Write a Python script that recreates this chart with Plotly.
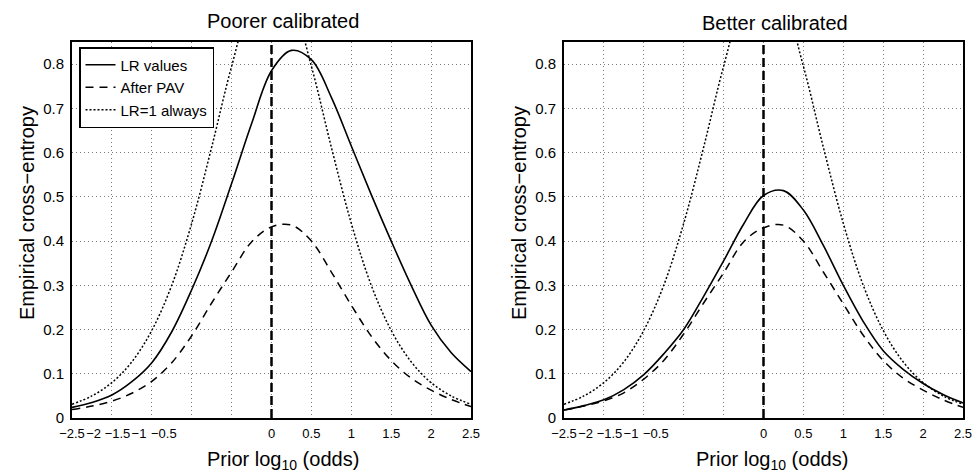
import plotly.graph_objects as go

# ---------------- data ----------------
prior_log_odds = [-2.5, -2.25, -2.0, -1.75, -1.5, -1.25, -1.0, -0.75, -0.5, -0.25,
                  0.0, 0.25, 0.5, 0.75, 1.0, 1.25, 1.5, 1.75, 2.0, 2.25, 2.5]

# Poorer calibrated panel
poor_lr_values = [0.024, 0.035, 0.052, 0.082, 0.125, 0.195, 0.290, 0.400, 0.530, 0.665,
                  0.785, 0.831, 0.810, 0.725, 0.615, 0.505, 0.400, 0.300, 0.210, 0.148, 0.105]
poor_after_pav = [0.019, 0.027, 0.038, 0.056, 0.083, 0.125, 0.186, 0.260, 0.330, 0.398,
                  0.432, 0.436, 0.400, 0.330, 0.255, 0.185, 0.130, 0.090, 0.063, 0.042, 0.026]

# Better calibrated panel
better_lr_values = [0.018, 0.028, 0.041, 0.064, 0.098, 0.145, 0.200, 0.275, 0.355, 0.438,
                    0.503, 0.514, 0.470, 0.390, 0.300, 0.218, 0.152, 0.110, 0.078, 0.053, 0.034]
better_after_pav = [0.018, 0.027, 0.039, 0.057, 0.088, 0.130, 0.190, 0.260, 0.328, 0.398,
                    0.430, 0.436, 0.400, 0.330, 0.258, 0.187, 0.130, 0.090, 0.063, 0.041, 0.024]

# Reference "LR = 1 always" curve (same in both panels)
lr1_always = [0.031, 0.050, 0.080, 0.127, 0.198, 0.300, 0.440, 0.612, 0.795, 0.943,
              1.000, 0.943, 0.795, 0.612, 0.440, 0.300, 0.198, 0.127, 0.080, 0.050, 0.031]

prior_zero = 0.0  # vertical reference line

panel_titles = ["Poorer calibrated", "Better calibrated"]
series_names = ["LR values", "After PAV", "LR=1 always"]

x_grid_vals = [-2.5, -2.0, -1.5, -1.0, -0.5, 0.0, 0.5, 1.0, 1.5, 2.0, 2.5]
x_label_vals = [-2.5, -2.23, -1.93, -1.66, -1.35, 0.0, 0.5, 1.0, 1.5, 2.0, 2.5]
x_label_text = ["\u22122.5", "\u22122", "\u22121.5", "\u22121", "\u22120.5",
                "0", "0.5", "1", "1.5", "2", "2.5"]
y_tick_vals = [0, 0.1, 0.2, 0.3, 0.4, 0.5, 0.6, 0.7, 0.8]
y_tick_text = ["0", "0.1", "0.2", "0.3", "0.4", "0.5", "0.6", "0.7", "0.8"]

x_range = [-2.5, 2.5]
y_range = [0, 0.85]

# ---------------- layout geometry (pixels) ----------------
W, H = 978, 476
FONT = "Liberation Sans, Arial, Helvetica, sans-serif"
panels = [  # pixel bounds of plot areas and text anchors
    dict(l=72, r=471, t=42, b=418, title_x=283, title_y=21, xt_x=283, yt_x=27),
    dict(l=564, r=963, t=42, b=418, title_x=775, title_y=23, xt_x=772, yt_x=519),
]

def px_x(p):
    return p / W

def px_y(p):
    return 1 - p / H

fig = go.Figure()

line_styles = [
    dict(color="black", width=1.6, dash="solid"),
    dict(color="black", width=1.5, dash="8px,6px"),
    dict(color="black", width=1.5, dash="2px,2px"),
]

panel_series = [
    [poor_lr_values, poor_after_pav, lr1_always],
    [better_lr_values, better_after_pav, lr1_always],
]

for i, series in enumerate(panel_series):
    xa = "x" if i == 0 else "x2"
    ya = "y" if i == 0 else "y2"
    for name, ys, st in zip(series_names, series, line_styles):
        fig.add_trace(go.Scatter(
            x=prior_log_odds, y=ys, mode="lines", name=name,
            line=dict(shape="spline", smoothing=1.0, **st),
            xaxis=xa, yaxis=ya, showlegend=(i == 0),
        ))
    # empty trace so that the overlay axis carrying the tick labels is drawn
    fig.add_trace(go.Scatter(
        x=[], y=[], mode="lines", showlegend=False, hoverinfo="skip",
        xaxis="x" + str(3 + i), yaxis=ya,
    ))

axis_common = dict(
    showline=True, linecolor="black", linewidth=2, mirror=True,
    zeroline=False, showgrid=True, gridcolor="#7a7a7a", gridwidth=1, griddash="1px,3px",
    ticks="", automargin=False,
)

layout = dict(
    template="none",
    width=W, height=H, autosize=False,
    margin=dict(l=0, r=0, t=0, b=0),
    paper_bgcolor="white", plot_bgcolor="white",
    font=dict(family=FONT, color="black"),
    showlegend=True,
    legend=dict(
        x=px_x(79), y=px_y(47), xanchor="left", yanchor="top",
        bgcolor="white", bordercolor="black", borderwidth=1.5,
        font=dict(size=15, family=FONT), itemwidth=30, tracegroupgap=0,
    ),
)

annotations = []
shapes = []
for i, p in enumerate(panels):
    sfx = "" if i == 0 else "2"
    xdom = [px_x(p["l"]), px_x(p["r"])]
    ydom = [px_y(p["b"]), px_y(p["t"])]
    xa = dict(axis_common)
    xa.update(range=x_range, domain=xdom, anchor="y" + sfx,
              tickmode="array", tickvals=x_grid_vals, showticklabels=False)
    ya = dict(axis_common)
    ya.update(range=y_range, domain=ydom, anchor="x" + sfx,
              tickmode="array", tickvals=y_tick_vals, ticktext=y_tick_text,
              tickfont=dict(size=15, family=FONT), ticklabelstandoff=3)
    layout["xaxis" + sfx] = xa
    layout["yaxis" + sfx] = ya
    # overlay axis carrying the x tick labels (placed as in the reference)
    ov = "xaxis" + str(3 + i)
    layout[ov] = dict(
        overlaying="x" + sfx, anchor="y" + sfx, side="bottom", range=x_range,
        showgrid=False, zeroline=False, showline=False, ticks="", automargin=False,
        tickmode="array", tickvals=x_label_vals, ticktext=x_label_text,
        tickangle=0, tickfont=dict(size=13, family=FONT), ticklabelstandoff=6,
    )
    # vertical dashed reference line at prior log odds = 0
    shapes.append(dict(
        type="line", xref="x" + sfx, yref="y" + sfx + " domain",
        x0=prior_zero, x1=prior_zero, y0=0, y1=1,
        line=dict(color="black", width=2.5, dash="9px,4px"), layer="above",
    ))
    annotations.append(dict(
        text=panel_titles[i], xref="paper", yref="paper",
        x=px_x(p["title_x"]), y=px_y(p["title_y"]), xanchor="center", yanchor="middle",
        showarrow=False, font=dict(size=20, family=FONT),
    ))
    annotations.append(dict(
        text="Prior log<sub>10</sub> (odds)", xref="paper", yref="paper",
        x=px_x(p["xt_x"]), y=px_y(460), xanchor="center", yanchor="middle",
        showarrow=False, font=dict(size=20, family=FONT),
    ))
    annotations.append(dict(
        text="Empirical cross\u2212entropy", xref="paper", yref="paper",
        x=px_x(p["yt_x"]), y=px_y(213), xanchor="center", yanchor="middle",
        textangle=-90, showarrow=False, font=dict(size=20, family=FONT),
    ))

layout["annotations"] = annotations
layout["shapes"] = shapes
fig.update_layout(**layout)

# remove the browser's default page margin so the figure sits at the window origin
fig.write_html(
    "out.html",
    config={"displayModeBar": False},
    post_script="document.body.style.margin='0px';document.body.style.overflow='hidden';",
)
